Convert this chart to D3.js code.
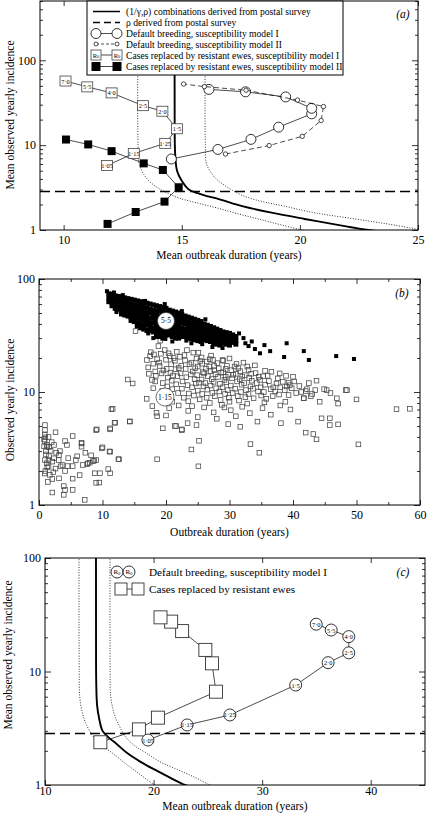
<!DOCTYPE html>
<html><head><meta charset="utf-8">
<script src="https://cdn.jsdelivr.net/npm/d3@7"></script>
<style>
body{margin:0;background:#fff}
svg text{font-family:"Liberation Serif","Times New Roman",serif;fill:#000}
</style>
</head><body><svg id="c" width="427" height="818"></svg>
<script>
// ---------- shared ----------
const r0Labels = ["1·05","1·15","1·25","1·5","2·0","2·5","4·0","5·5","7·0"];
const rhoPostal = 2.85;
// (1/γ,ρ) combination curve and its bounds: [duration, incidence]
const curveMid   = [[14.7,500],[14.7,20],[14.72,8],[14.8,5],[15.0,3.8],[15.3,3.0],[15.9,2.6],[16.6,2.3],[17.6,1.9],[18.8,1.6],[20.2,1.35],[21.6,1.15],[22.9,1.0],[23.6,0.95]];
const curveLow   = [[13.15,500],[13.15,10],[13.2,6],[13.4,4.5],[13.7,3.6],[14.2,2.9],[14.85,2.4],[15.6,2.1],[16.4,1.85],[17.2,1.6],[18.1,1.38],[19.1,1.17],[20.1,1.0],[20.6,0.95]];
const curveHigh  = [[16.0,500],[16.0,10],[16.05,6],[16.3,4.5],[16.5,3.9],[17.0,3.1],[17.5,2.6],[18.3,2.2],[19.3,1.92],[20.6,1.6],[22.1,1.38],[23.7,1.18],[25.2,1.0],[25.8,0.95]];

// ---------- panel (a) ----------
const aDefIDur  = [14.56,16.53,17.93,19.1,20.5,20.5,19.4,17.7,16.15];
const aDefIInc  = [6.87,8.9,11.7,16.3,23.4,27.2,37,42.5,45.4];
const aDefIIDur = [16.85,18.7,20.1,20.9,21.0,19.9,17.72,15.96,15.08];
const aDefIIInc = [7.86,9.9,12.7,19.5,28.5,34,44.4,49,52.5];
const aResIDur  = [11.84,12.97,14.3,14.8,14.18,13.36,12.03,11.0,10.08];
const aResIInc  = [5.75,8.0,10.5,15.6,25.1,29.2,41.3,48.6,57];
const aResIIDur = [11.86,13.05,14.27,14.87,14.2,13.39,12.03,11.04,10.1];
const aResIIInc = [1.18,1.63,2.16,3.19,5.1,6.1,8.5,10.2,11.65];
const aXTicks = [10,15,20,25];
const aLegend = ["(1/γ,ρ) combinations derived from postal survey","ρ derived from postal survey",
  "Default breeding, susceptibility model I","Default breeding, susceptibility model II",
  "Cases replaced by resistant ewes, susceptibility model I","Cases replaced by resistant ewes, susceptibility model II"];

// ---------- panel (b) ----------
// black band (R0 = 5·5): columns [duration, incidences]
const bBlackCols = [
[11.0,[74,68,63]],[11.5,[73,67,62,58]],[12.0,[71,65,60,55]],[12.5,[70,64,59,54]],
[13.0,[69,63,58,53,49]],[13.5,[68,62,57,52,48]],[14.0,[67,61,56,51,47]],[14.5,[66,60,55,50,46,43]],
[15.0,[65,59,54,50,46,42]],[15.5,[64,58,53,49,45,41]],[16.0,[63,57,52,48,44,40,37]],[16.5,[62,56,51,47,43,39,36]],
[17.0,[61,55,50,46,42,39,35]],[17.5,[60,54,50,45,41,38,35]],[18.0,[59,53,49,45,41,37,34]],[18.5,[58,52,48,44,40,37,34,31]],
[19.0,[57,52,47,43,40,36,33,31]],[19.5,[56,51,47,43,39,36,33,30]],[20.0,[55,50,46,42,38,35,32]],[20.5,[53,49,45,41,38,35,32]],
[21.0,[52,48,44,40,37,34,31]],[21.5,[51,47,43,39,36,33,30]],[22.0,[50,46,42,38,35,32,30]],[22.5,[48,44,41,37,34,31]],
[23.0,[47,43,40,36,33,31]],[23.5,[46,42,39,36,33,30]],[24.0,[45,41,38,35,32,29.5]],[24.5,[44,40,37,34,31,29]],
[25.0,[43,39,36,33,30.5,28.5]],[25.5,[42,38,35,32,30,28]],[26.0,[40,37,34,31.5,29]],[26.5,[39,36,33,31,28.5]],
[27.0,[38,35,32.5,30,28]],[27.5,[37,34,31.5,29,27]],[28.0,[36,33.5,31,28.5,26.5]],[28.5,[35,32.5,30,28,26]],
[29.0,[34,31.5,29,27]],[29.5,[33.5,31,28.5,26.5]],[30.0,[33,30.5,28,26]],[30.5,[32,29.5,27.5]],[31.0,[31,28.5,26.5]]
];
const bBlackExtra = [[10.7,78],[11.8,76],[13.2,72],[16.7,64],[19.8,60],[22.5,52],[26.2,44],[24,27],[27.3,25],[31.5,33],[32.2,30],
[32.5,27],[33,25.5],[33.5,28],[34,24],[34.8,22],[35.5,26],[36.4,23],[38.6,20.4],[39.0,27],[41.7,23],[42.5,19.2],[46.8,20.8],[49.6,19.6],[21,28],[15.4,38],[18,30],
[12.2,51],[14.8,45],[17.2,33],[19.9,29.5],[23.2,28.5],[25.7,26.5],[28.9,24.5],[12.9,67],[15.8,62],[18.8,56],[21.8,49],[24.7,42],[27.8,35.5],[30.8,30]];
// open squares (R0 = 1·15)
const bOpen = [
[17.0,19.2],[17.2,16.5],[17.5,20.8],[17.3,14.5],[17.8,12.8],[18.0,17.8],[17.6,22.5],[18.3,15.2],[18.4,13.9],[18.3,12.4],[18.0,10.8],[18.6,19.5],
[19.1,28.5],[18.8,25.5],[19.2,21.8],[19.0,17.0],[19.3,14.6],[19.5,12.0],[19.4,10.2],[19.8,23.5],[20.0,19.3],[20.1,16.0],[20.3,13.4],[20.2,11.2],[20.0,9.4],[20.6,20.8],[20.8,17.6],[20.7,14.8],[20.9,12.6],[21.0,10.6],
[21.7,22.7],[21.4,18.9],[21.5,15.9],[21.8,13.8],[21.6,11.7],[21.9,9.8],[22.2,20.5],[22.4,17.1],[22.3,14.6],[22.6,12.4],[22.5,10.7],[22.8,8.9],[23.0,19.0],[23.3,23.5],[23.1,16.0],[23.2,13.5],[23.4,11.5],[23.6,9.7],
[24.3,22.3],[24.0,18.2],[24.2,15.2],[24.5,13.0],[24.1,11.0],[24.4,9.3],[24.8,19.8],[25.1,22.3],[25.0,16.8],[24.9,14.1],[25.2,12.1],[25.0,10.3],[25.3,8.6],[25.6,20.2],[25.7,17.8],[25.8,15.0],[25.6,12.9],[25.9,11.2],[25.7,9.6],
[26.4,18.6],[26.3,16.1],[26.6,13.8],[26.2,12.0],[26.5,10.5],[26.4,8.9],[26.9,19.5],[27.0,15.3],[27.2,13.0],[27.0,11.4],[27.3,9.8],[27.4,19.2],[27.6,17.0],[27.8,14.4],[27.5,12.3],[27.9,10.8],[27.7,9.2],
[28.3,16.2],[28.2,13.6],[28.5,11.8],[28.4,10.1],[28.6,8.5],[28.9,19.2],[29.0,15.0],[29.2,12.8],[28.9,11.0],[29.3,9.6],[29.0,18.9],[29.6,17.0],[29.8,14.2],[29.5,12.2],[29.7,10.4],[29.9,8.9],
[30.3,15.6],[30.4,13.2],[30.2,11.4],[30.5,9.8],[30.8,16.8],[31.1,17.7],[31.0,14.5],[31.2,12.4],[30.9,10.7],[31.3,9.2],[31.7,15.3],[31.6,13.0],[31.9,11.6],[31.8,10.0],[31.5,8.4],
[32.2,18.2],[32.4,14.1],[32.3,12.0],[32.6,10.4],[32.5,9.0],[33.0,15.7],[33.1,13.3],[33.3,11.2],[33.0,9.6],[33.5,12.6],[33.7,10.7],[33.8,8.8],
[34.1,14.7],[34.3,12.0],[34.5,10.1],[34.8,12.8],[34.9,11.0],[35.0,9.3],[35.3,13.8],[35.6,11.6],[35.4,10.0],[35.8,8.7],
[36.6,15.1],[36.2,12.5],[36.5,10.6],[36.8,9.2],[37.4,11.9],[37.2,10.1],[37.6,13.2],[38.0,11.0],[37.8,9.5],[38.4,12.3],[38.9,13.9],[38.7,10.4],
[39.3,12.1],[39.5,11.5],[39.3,9.4],[39.8,10.8],[40.2,12.4],[40.5,9.8],[41.0,11.3],[41.7,8.8],[42.0,10.2],[42.2,10.6],[42.8,9.2],[43.5,10.4],[43.7,12.6],[44.9,10.6],[45.3,10.4],[46.9,8.8],[48.3,10.4],[50.0,8.6],[47.1,7.9],[48.5,10.4],
[18.1,21.5],[18.9,18.2],[19.6,15.5],[20.4,22.0],[21.2,20.0],[21.1,14.0],[22.0,16.3],[22.9,21.2],[23.7,17.6],[23.9,14.3],[24.6,16.2],[24.7,11.9],[25.4,18.8],[26.0,14.6],[26.8,16.8],[27.1,21.0],[27.6,15.6],[28.1,18.0],[28.7,14.8],[29.4,16.0],[29.4,13.6],[30.0,19.8],[30.6,14.2],[31.4,16.3],[32.0,13.7],[32.8,16.8],[33.4,14.5],[34.0,17.2],[34.6,13.6],[35.6,15.4],[36.0,13.9],[36.9,11.0],[37.9,14.6],[39.0,11.2],[40.0,13.6],[41.3,10.0],[42.5,12.0],[43.0,9.6],[44.2,8.2],[45.9,9.8],[23.5,8.3],[26.9,8.0],[30.0,8.2],[32.8,7.9],[35.5,8.1],[38.8,8.2],[21.0,8.2],[19.0,8.8],[24.1,7.5],[29.2,7.3],
[16.96,8.7],[17.85,7.5],[18.5,6.55],[18.6,6.1],[11.6,7.1],[12.0,5.35],[14.3,5.5],[11.2,4.77],[9.1,4.67],[5.3,4.08],[6.7,3.5],[10.0,3.24],[11.1,2.98],[12.5,2.54],[8.7,2.47],[8.0,2.37],[7.6,2.3],[9.5,1.58],
[18.6,2.54],[19.5,4.77],[21.4,5.0],[22.5,4.67],[23.4,5.3],[24.8,5.1],[25.2,3.7],[24.0,3.1],[25.1,2.2],[29.8,5.2],[31.7,4.93],[33.3,3.46],[34.7,2.9],[34.4,5.47],[38.1,5.3],[40.8,5.47],[42.0,4.37],[43.2,4.25],[43.7,3.81],[45.8,5.1],[47.1,5.17],[50.3,3.44],[56.3,7.05],[58.4,7.1],[45.8,5.85],[44.5,5.85],[41.7,8.8],[13.97,12.9],[14.75,11.9],[15.2,34.6],[11.4,7.03],[11.9,5.35],
[20.5,7.2],[22.0,7.6],[23.5,6.8],[26.0,7.3],[27.5,6.6],[28.8,7.7],[30.2,6.9],[32.0,7.4],[33.2,6.5],[35.2,7.2],[36.5,6.3],[38.0,7.6],[39.6,7.0],[20.0,6.2],[25.0,6.0],[31.0,6.1],[28.0,5.8],
[0.94,5.1],[0.94,4.6],[0.9,4.22],[1.0,3.97],[0.9,3.68],[1.2,3.4],[1.3,3.28],[1.57,3.24],[2.36,3.4],[1.83,3.02],[3.15,2.77],[1.57,2.71],[2.36,2.59],[0.94,2.5],[1.2,2.34],[2.1,2.42],[3.7,2.26],[4.5,2.21],[5.3,2.21],[5.8,2.5],[6.9,2.26],[7.7,2.34],[8.5,2.45],[9.0,2.5],[9.9,3.17],[11.2,2.96],[12.6,2.54],
[14.3,5.47],[9.0,4.6],[11.2,4.67],[4.1,3.68],[4.4,3.4],[6.7,3.56],[6.7,3.28],[2.25,1.95],[3.15,1.72],[3.9,1.47],[4.1,1.36],[3.9,1.23],[5.3,1.36],[7.2,1.11],[2.1,1.29],[5.3,1.71],[6.4,1.84],[8.8,1.91],[9.6,1.91],[9.0,1.57],[10.9,2.08],[11.2,1.91],
[21.6,5.0],[22.5,4.6],
[0.8,3.8],[0.8,3.3],[1.1,3.0],[1.1,2.8],[1.5,2.5],[1.0,2.0],[1.3,2.15],[1.5,2.2],[1.7,1.85],[0.9,1.9],[2.7,2.9],[3.1,2.5],[2.6,2.1],[3.4,2.2],[1.4,1.6],[2.1,1.7],[4.1,2.0],[3.3,3.0],[4.6,2.6],[2.0,3.6],[2.6,4.4],[1.5,4.0],[6.0,2.7],[7.3,2.9],[8.2,2.75]
];

// ---------- panel (c) ----------
const cDefDur = [19.48,23.09,27.03,33.09,36.08,37.98,37.98,36.36,34.98];
const cDefInc = [2.49,3.38,4.14,7.6,11.96,14.6,20.3,23.2,26.1];
const cResDur = [15.1,18.65,20.4,25.75,25.38,24.77,22.63,21.62,20.64];
const cResInc = [2.38,3.09,3.92,6.64,11.8,15.5,22.7,27.5,30.0];
const cXTicks = [10,20,30,40];

// ====================================================
const svg = d3.select("#c");
const zip = (a,b) => a.map((v,i)=>[v,b[i]]);

function panel(cfg){
  const x = d3.scaleLinear().domain(cfg.xd).range([cfg.l,cfg.r]);
  const y = d3.scaleLog().domain(cfg.yd).range([cfg.b,cfg.t]);
  const g = svg.append("g");
  const id = "clip"+cfg.name;
  svg.append("defs").append("clipPath").attr("id",id).append("rect")
    .attr("x",cfg.l).attr("y",cfg.t).attr("width",cfg.r-cfg.l).attr("height",cfg.b-cfg.t);
  const yMaj = cfg.yMajor, yMin = [];
  const top = cfg.yd[1];
  for (let d=1; d<top; d*=10) for (let k=2;k<=9;k++) if (d*k<=top && !yMaj.includes(d*k)) yMin.push(d*k);
  const ax = (gen, tr) => {
    const a = g.append("g").attr("transform",tr).call(gen);
    a.select(".domain").remove();
    a.selectAll("line").attr("stroke","#000").attr("stroke-width",0.8);
    a.selectAll("text").attr("font-size",12);
    return a;
  };
  ax(d3.axisBottom(x).tickValues(cfg.xMajor).tickSize(-5).tickPadding(cfg.xPad).tickFormat(d3.format("d")), `translate(0,${cfg.b})`);
  ax(d3.axisTop(x).tickValues(cfg.xMajor).tickSize(-5).tickFormat(""), `translate(0,${cfg.t})`);
  if (cfg.xMinor){
    ax(d3.axisBottom(x).tickValues(cfg.xMinor).tickSize(-3).tickFormat(""), `translate(0,${cfg.b})`);
    ax(d3.axisTop(x).tickValues(cfg.xMinor).tickSize(-3).tickFormat(""), `translate(0,${cfg.t})`);
  }
  ax(d3.axisLeft(y).tickValues(yMaj).tickSize(-6).tickPadding(4).tickFormat(d3.format("d")), `translate(${cfg.l},0)`);
  ax(d3.axisRight(y).tickValues(yMaj).tickSize(-6).tickFormat(""), `translate(${cfg.r},0)`);
  ax(d3.axisLeft(y).tickValues(yMin).tickSize(-3).tickFormat(""), `translate(${cfg.l},0)`);
  ax(d3.axisRight(y).tickValues(yMin).tickSize(-3).tickFormat(""), `translate(${cfg.r},0)`);
  const plot = g.append("g").attr("clip-path",`url(#${id})`);
  const front = g.append("g");
  g.append("rect").attr("x",cfg.l).attr("y",cfg.t).attr("width",cfg.r-cfg.l).attr("height",cfg.b-cfg.t)
    .attr("fill","none").attr("stroke","#000").attr("stroke-width",1);
  g.append("text").attr("x",(cfg.l+cfg.r)/2).attr("y",cfg.xTitleY).attr("text-anchor","middle")
    .attr("font-size",11.5).text(cfg.xTitle);
  g.append("text").attr("transform",`translate(${cfg.yTitleX},${cfg.yTitleC}) rotate(-90)`)
    .attr("text-anchor","middle").attr("font-size",11.5).text(cfg.yTitle);
  g.append("text").attr("x",cfg.tagX).attr("y",cfg.tagY).attr("text-anchor","middle")
    .attr("font-size",11.5).attr("font-style","italic").text(cfg.tag);
  return {x,y,g,plot,front};
}

function drawCurves(P){
  const line = d3.line().x(d=>P.x(d[0])).y(d=>P.y(d[1])).curve(d3.curveCatmullRom);
  P.plot.append("path").attr("d",line(curveLow)).attr("fill","none").attr("stroke","#000").attr("stroke-width",0.8).attr("stroke-dasharray","1,1.6");
  P.plot.append("path").attr("d",line(curveHigh)).attr("fill","none").attr("stroke","#000").attr("stroke-width",0.8).attr("stroke-dasharray","1,1.6");
  P.plot.append("path").attr("d",line(curveMid)).attr("fill","none").attr("stroke","#000").attr("stroke-width",1.9);
  P.plot.append("line").attr("x1",P.x.range()[0]).attr("x2",P.x.range()[1])
    .attr("y1",P.y(rhoPostal)).attr("y2",P.y(rhoPostal))
    .attr("stroke","#000").attr("stroke-width",1.5).attr("stroke-dasharray","10,5");
}
function r0Text(sel, cx, cy, fs){
  const t = sel.append("text").attr("x",cx).attr("y",cy).attr("text-anchor","middle")
    .attr("dominant-baseline","central").attr("font-size",fs);
  t.append("tspan").text("R");
  t.append("tspan").attr("font-size",fs*0.7).attr("dy",fs*0.25).text("0");
}

// ---------- (a) ----------
const A = panel({name:"a",l:40,r:418,t:1,b:230,xd:[9,25],yd:[1,500],xMajor:aXTicks,yMajor:[1,10,100],xPad:5,
  xTitle:"Mean outbreak duration (years)",xTitleY:259,yTitle:"Mean observed yearly incidence",yTitleX:14,yTitleC:115,
  tag:"(a)",tagX:403,tagY:18});
drawCurves(A);
{
  const L = d3.line().x(d=>A.x(d[0])).y(d=>A.y(d[1]));
  const p = A.front;
  const d1 = zip(aDefIDur,aDefIInc);
  p.append("path").attr("d",L(d1)).attr("fill","none").attr("stroke","#000").attr("stroke-width",0.7);
  p.selectAll(null).data(d1).join("circle").attr("cx",d=>A.x(d[0])).attr("cy",d=>A.y(d[1])).attr("r",5)
    .attr("fill","#fff").attr("stroke","#000").attr("stroke-width",0.8);
  const d2 = zip(aDefIIDur,aDefIIInc);
  p.append("path").attr("d",L(d2)).attr("fill","none").attr("stroke","#000").attr("stroke-width",0.7).attr("stroke-dasharray","5,3");
  p.selectAll(null).data(d2).join("circle").attr("cx",d=>A.x(d[0])).attr("cy",d=>A.y(d[1])).attr("r",2.2)
    .attr("fill","#fff").attr("stroke","#000").attr("stroke-width",0.7);
  const d4 = zip(aResIIDur,aResIIInc);
  p.append("path").attr("d",L(d4)).attr("fill","none").attr("stroke","#000").attr("stroke-width",0.7);
  p.selectAll(null).data(d4).join("rect").attr("x",d=>A.x(d[0])-4).attr("y",d=>A.y(d[1])-4)
    .attr("width",8).attr("height",8).attr("fill","#000");
  const d3r = zip(aResIDur,aResIInc);
  p.append("path").attr("d",L(d3r)).attr("fill","none").attr("stroke","#000").attr("stroke-width",0.7);
  const sq = p.selectAll(null).data(d3r).join("g");
  sq.append("rect").attr("x",d=>A.x(d[0])-5.5).attr("y",d=>A.y(d[1])-5).attr("width",11).attr("height",10)
    .attr("fill","#fff").attr("stroke","#444").attr("stroke-width",0.8);
  sq.append("text").attr("x",d=>A.x(d[0])).attr("y",d=>A.y(d[1])).attr("text-anchor","middle")
    .attr("dominant-baseline","central").attr("font-size",6.3).text((d,i)=>r0Labels[i]);
  // legend
  const lg = A.g.append("g");
  lg.append("rect").attr("x",87).attr("y",1).attr("width",256).attr("height",74).attr("fill","#fff").attr("stroke","#000").attr("stroke-width",1);
  const rows = [11.5,22.5,33.5,44,55,66.5];
  const sx1 = 96, sx2 = 117;
  lg.append("line").attr("x1",93).attr("x2",120).attr("y1",rows[0]).attr("y2",rows[0]).attr("stroke","#000").attr("stroke-width",1.5);
  lg.append("line").attr("x1",93).attr("x2",120).attr("y1",rows[1]).attr("y2",rows[1]).attr("stroke","#000").attr("stroke-width",1.5).attr("stroke-dasharray","7,4");
  lg.append("line").attr("x1",sx1).attr("x2",sx2).attr("y1",rows[2]).attr("y2",rows[2]).attr("stroke","#000").attr("stroke-width",0.7);
  [sx1,sx2].forEach(xx=>lg.append("circle").attr("cx",xx).attr("cy",rows[2]).attr("r",5).attr("fill","#fff").attr("stroke","#000").attr("stroke-width",0.8));
  lg.append("line").attr("x1",sx1).attr("x2",sx2).attr("y1",rows[3]).attr("y2",rows[3]).attr("stroke","#000").attr("stroke-width",0.7).attr("stroke-dasharray","3,2");
  [sx1,sx2].forEach(xx=>lg.append("circle").attr("cx",xx).attr("cy",rows[3]).attr("r",2).attr("fill","#fff").attr("stroke","#000").attr("stroke-width",0.7));
  lg.append("line").attr("x1",sx1).attr("x2",sx2).attr("y1",rows[4]).attr("y2",rows[4]).attr("stroke","#000").attr("stroke-width",0.7);
  [sx1,sx2].forEach(xx=>{lg.append("rect").attr("x",xx-5).attr("y",rows[4]-5).attr("width",10).attr("height",10).attr("fill","#fff").attr("stroke","#444").attr("stroke-width",0.8);
    r0Text(lg,xx,rows[4]-0.5,6.5);});
  lg.append("line").attr("x1",sx1).attr("x2",sx2).attr("y1",rows[5]).attr("y2",rows[5]).attr("stroke","#000").attr("stroke-width",0.7);
  [sx1,sx2].forEach(xx=>lg.append("rect").attr("x",xx-4.5).attr("y",rows[5]-4.5).attr("width",9).attr("height",9).attr("fill","#000"));
  aLegend.forEach((t,i)=>lg.append("text").attr("x",126).attr("y",rows[i]).attr("dominant-baseline","central").attr("font-size",9.6).text(t));
}

// ---------- (b) ----------
const B = panel({name:"b",l:39,r:420,t:279,b:505,xd:[0,60],yd:[1,100],xMajor:[0,10,20,30,40,50,60],xMinor:[5,15,25,35,45,55],yMajor:[1,10,100],xPad:5,
  xTitle:"Outbreak duration (years)",xTitleY:536,yTitle:"Observed yearly incidence",yTitleX:14,yTitleC:400,
  tag:"(b)",tagX:402,tagY:297});
{
  const s = 4.6;
  B.plot.selectAll(null).data(bOpen).join("rect").attr("x",d=>B.x(d[0])-s/2).attr("y",d=>B.y(d[1])-s/2)
    .attr("width",s).attr("height",s).attr("fill","none").attr("stroke","#444").attr("stroke-width",0.75);
  const blk = bBlackCols.flatMap(([dur,incs])=>incs.map(v=>[dur,v]));
  const k = 5;
  B.plot.selectAll(null).data(blk).join("rect").attr("x",d=>B.x(d[0])-k/2).attr("y",d=>B.y(d[1])-k/2)
    .attr("width",k).attr("height",k).attr("fill","#000");
  const k2 = 4;
  B.plot.selectAll(null).data(bBlackExtra).join("rect").attr("x",d=>B.x(d[0])-k2/2).attr("y",d=>B.y(d[1])-k2/2)
    .attr("width",k2).attr("height",k2).attr("fill","#000");
  const lab = [[20.0,42.5,"5·5",8.5],[19.84,9.03,"1·15",9]];
  lab.forEach(([dx,dy,t,r])=>{
    B.front.append("circle").attr("cx",B.x(dx)).attr("cy",B.y(dy)).attr("r",r).attr("fill","#fff").attr("stroke","#333").attr("stroke-width",0.7);
    B.front.append("text").attr("x",B.x(dx)).attr("y",B.y(dy)).attr("text-anchor","middle").attr("dominant-baseline","central").attr("font-size",7.5).text(t);
  });
}

// ---------- (c) ----------
const C = panel({name:"cc",l:45,r:425,t:558,b:785,xd:[10,45],yd:[1,100],xMajor:cXTicks,yMajor:[1,10,100],xPad:1,
  xTitle:"Mean outbreak duration (years)",xTitleY:810,yTitle:"Mean observed yearly incidence",yTitleX:12,yTitleC:655,
  tag:"(c)",tagX:403,tagY:576});
drawCurves(C);
{
  const L = d3.line().x(d=>C.x(d[0])).y(d=>C.y(d[1]));
  const p = C.front;
  const rs = zip(cResDur,cResInc);
  p.append("path").attr("d",L(rs)).attr("fill","none").attr("stroke","#000").attr("stroke-width",0.7);
  p.selectAll(null).data(rs).join("rect").attr("x",d=>C.x(d[0])-6.5).attr("y",d=>C.y(d[1])-6.5)
    .attr("width",13).attr("height",13).attr("fill","#fff").attr("stroke","#333").attr("stroke-width",0.9);
  const df = zip(cDefDur,cDefInc);
  p.append("path").attr("d",L(df)).attr("fill","none").attr("stroke","#000").attr("stroke-width",0.7);
  const cg = p.selectAll(null).data(df).join("g");
  cg.append("circle").attr("cx",d=>C.x(d[0])).attr("cy",d=>C.y(d[1])).attr("r",6)
    .attr("fill","#fff").attr("stroke","#000").attr("stroke-width",0.8);
  cg.append("text").attr("x",d=>C.x(d[0])).attr("y",d=>C.y(d[1])).attr("text-anchor","middle")
    .attr("dominant-baseline","central").attr("font-size",6.3).text((d,i)=>r0Labels[i]);
  // legend
  const lg = C.g.append("g");
  [117,129].forEach(xx=>{lg.append("circle").attr("cx",xx).attr("cy",572).attr("r",6).attr("fill","#fff").attr("stroke","#000").attr("stroke-width",0.8);
    r0Text(lg,xx,571.5,7);});
  lg.append("line").attr("x1",121).attr("x2",138).attr("y1",589).attr("y2",589).attr("stroke","#000").attr("stroke-width",0.7);
  [121,138].forEach(xx=>lg.append("rect").attr("x",xx-6).attr("y",583).attr("width",12).attr("height",12).attr("fill","#fff").attr("stroke","#333").attr("stroke-width",0.9));
  lg.append("text").attr("x",149).attr("y",572).attr("dominant-baseline","central").attr("font-size",11.2).text("Default breeding, susceptibility model I");
  lg.append("text").attr("x",149).attr("y",589).attr("dominant-baseline","central").attr("font-size",11.2).text("Cases replaced by resistant ewes");
}
</script>
</body></html>
